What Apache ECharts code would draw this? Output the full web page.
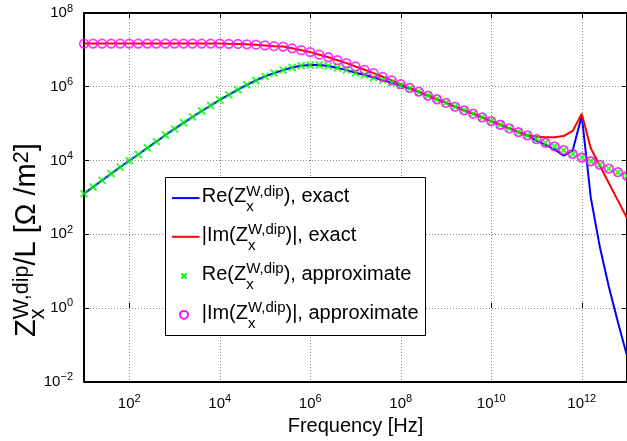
<!DOCTYPE html>
<html><head><meta charset="utf-8">
<script src="https://cdn.jsdelivr.net/npm/echarts@6/dist/echarts.min.js"></script>
<style>html,body{margin:0;padding:0;background:#fff}#c{width:627px;height:441px}</style>
</head><body><div id="c"></div>
<script>
// ---------------- data ----------------
const freqHz = [
  1e1, 1.585e1, 2.512e1, 3.981e1, 6.310e1,
  1e2, 1.585e2, 2.512e2, 3.981e2, 6.310e2,
  1e3, 1.585e3, 2.512e3, 3.981e3, 6.310e3,
  1e4, 1.585e4, 2.512e4, 3.981e4, 6.310e4,
  1e5, 1.585e5, 2.512e5, 3.981e5, 6.310e5,
  1e6, 1.585e6, 2.512e6, 3.981e6, 6.310e6,
  1e7, 1.585e7, 2.512e7, 3.981e7, 6.310e7,
  1e8, 1.585e8, 2.512e8, 3.981e8, 6.310e8,
  1e9, 1.585e9, 2.512e9, 3.981e9, 6.310e9,
  1e10, 1.585e10, 2.512e10, 3.981e10, 6.310e10,
  1e11, 1.585e11, 2.512e11, 3.981e11, 6.310e11,
  1e12, 1.585e12, 2.512e12, 3.981e12, 6.310e12,
  1e13
];
const imApprox = [
  1.48e7, 1.48e7, 1.48e7, 1.48e7, 1.48e7,
  1.48e7, 1.48e7, 1.48e7, 1.48e7, 1.48e7,
  1.48e7, 1.48e7, 1.48e7, 1.48e7, 1.48e7,
  1.48e7, 1.46e7, 1.45e7, 1.41e7, 1.38e7,
  1.32e7, 1.26e7, 1.23e7, 1.10e7, 9.8e6,
  8.7e6, 7.4e6, 6.3e6, 5.25e6, 4.37e6,
  3.55e6, 2.88e6, 2.34e6, 1.86e6, 1.48e6,
  1.17e6, 9.3e5, 7.4e5, 5.75e5, 4.57e5,
  3.63e5, 2.88e5, 2.29e5, 1.86e5, 1.48e5,
  1.17e5, 9.3e4, 7.4e4, 5.9e4, 4.8e4,
  3.8e4, 3.0e4, 2.4e4, 1.9e4, 1.5e4,
  1.2e4, 9.5e3, 7.6e3, 6.0e3, 4.8e3,
  3.8e3
];
const reApprox = [
  1.26e3, 1.91e3, 2.88e3, 4.37e3, 6.6e3,
  9.8e3, 1.45e4, 2.19e4, 3.24e4, 4.9e4,
  7.2e4, 1.05e5, 1.51e5, 2.19e5, 3.09e5,
  4.37e5, 6.0e5, 8.3e5, 1.12e6, 1.48e6,
  1.91e6, 2.34e6, 2.82e6, 3.31e6, 3.72e6,
  3.89e6, 3.89e6, 3.63e6, 3.24e6, 2.82e6,
  2.40e6, 2.09e6, 1.78e6, 1.51e6, 1.29e6,
  1.07e6, 8.9e5, 7.2e5, 5.75e5, 4.57e5,
  3.63e5, 2.88e5, 2.29e5, 1.86e5, 1.48e5,
  1.17e5, 9.3e4, 7.4e4, 5.9e4, 4.8e4,
  3.8e4, 3.0e4, 2.4e4, 1.9e4, 1.5e4,
  1.2e4, 9.5e3, 7.6e3, 6.0e3, 4.8e3,
  3.8e3
];
const reExact = [
  1.26e3, 1.91e3, 2.88e3, 4.37e3, 6.6e3,
  9.8e3, 1.45e4, 2.19e4, 3.24e4, 4.9e4,
  7.2e4, 1.05e5, 1.51e5, 2.19e5, 3.09e5,
  4.37e5, 6.0e5, 8.3e5, 1.12e6, 1.48e6,
  1.91e6, 2.34e6, 2.82e6, 3.31e6, 3.72e6,
  3.89e6, 3.89e6, 3.63e6, 3.24e6, 2.82e6,
  2.40e6, 2.09e6, 1.78e6, 1.51e6, 1.29e6,
  1.07e6, 8.9e5, 7.2e5, 5.75e5, 4.57e5,
  3.63e5, 2.88e5, 2.29e5, 1.86e5, 1.48e5,
  1.17e5, 9.3e4, 7.4e4, 5.9e4, 4.8e4,
  3.47e4, 2.63e4, 2.0e4, 1.35e4, 1.86e4,
  1.62e5, 977, 44.7, 3.7, 0.41,
  0.05
];
const imExact = [
  1.48e7, 1.48e7, 1.48e7, 1.48e7, 1.48e7,
  1.48e7, 1.48e7, 1.48e7, 1.48e7, 1.48e7,
  1.48e7, 1.48e7, 1.48e7, 1.48e7, 1.48e7,
  1.48e7, 1.46e7, 1.45e7, 1.41e7, 1.38e7,
  1.32e7, 1.26e7, 1.23e7, 1.10e7, 9.8e6,
  8.7e6, 7.4e6, 6.3e6, 5.25e6, 4.37e6,
  3.55e6, 2.88e6, 2.34e6, 1.86e6, 1.48e6,
  1.17e6, 9.3e5, 7.4e5, 5.75e5, 4.57e5,
  3.63e5, 2.88e5, 2.29e5, 1.86e5, 1.48e5,
  1.17e5, 9.3e4, 7.4e4, 5.9e4, 4.8e4,
  4.37e4, 4.27e4, 4.27e4, 4.57e4, 6.3e4,
  1.86e5, 2.14e4, 7.2e3, 2.4e3, 813,
  275
];
const xTickExponents = [2, 4, 6, 8, 10, 12];
const yTickExponents = [-2, 0, 2, 4, 6, 8];
const xAxisTitle = 'Frequency [Hz]';
const legendRows = [
  ['Re(Z', {sub: 'x', sup: 'W,dip'}, '), exact'],
  ['|Im(Z', {sub: 'x', sup: 'W,dip'}, ')|, exact'],
  ['Re(Z', {sub: 'x', sup: 'W,dip'}, '), approximate'],
  ['|Im(Z', {sub: 'x', sup: 'W,dip'}, ')|, approximate']
];
const yAxisTitle = ['Z', {sub: 'x', sup: 'W,dip'}, '/L [\u03A9 /m', {sup: '2'}, ']'];

// ---------------- helpers ----------------
const FONT = '"Liberation Sans", Arial, Helvetica, sans-serif';
const mctx = document.createElement('canvas').getContext('2d');
function tw(t, size) { mctx.font = size + 'px ' + FONT; return mctx.measureText(t).width; }
function txt(t, x, y, size) {
  return { type: 'text', x: x, y: y, z: 101, silent: true,
    style: { text: t, font: size + 'px ' + FONT, fill: '#000', align: 'left', verticalAlign: 'middle' } };
}
// baseline at local y = 0
function texElems(parts, base, small, rise, drop) {
  let x = 0; const els = [];
  parts.forEach(p => {
    if (typeof p === 'string') {
      els.push(txt(p, x, -0.35 * base, base));
      x += tw(p, base);
    } else {
      let w = 0;
      if (p.sup) { els.push(txt(p.sup, x, -rise - 0.35 * small, small)); w = Math.max(w, tw(p.sup, small)); }
      if (p.sub) { els.push(txt(p.sub, x, drop - 0.35 * small, small)); w = Math.max(w, tw(p.sub, small)); }
      x += w;
    }
  });
  return { els, width: x };
}
function pairs(xs, ys) { return xs.map((x, i) => [x, ys[i]]); }
const supMap = { '-': '\u2212' };
function expLabel(v) {
  const e = Math.round(v);
  const s = String(e).split('').map(c => supMap[c] || c).join('');
  return '{b|10}{s|' + s + '}';
}
const richTick = {
  b: { fontSize: 15, fontFamily: FONT, color: '#000', lineHeight: 20 },
  s: { fontSize: 11, fontFamily: FONT, color: '#000', lineHeight: 9, verticalAlign: 'top' }
};

// ---------------- chart ----------------
const chart = echarts.init(document.getElementById('c'), null, { renderer: 'canvas' });
const gridLine = { show: true, lineStyle: { color: '#8c8c8c', width: 1, type: [1, 2] } };
const tickStyle = { show: true, inside: true, length: 5, lineStyle: { color: '#000', width: 1 } };

// legend graphic
const legendEls = [];
legendEls.push({ type: 'rect', z: 100, silent: true,
  shape: { x: 165.5, y: 177.5, width: 260, height: 158 },
  style: { fill: '#fff', stroke: '#000', lineWidth: 1 } });
const rowBase = [203.7, 242.4, 281.6, 320.4];
const legendColors = ['#0000ff', '#ff0000'];
legendRows.forEach((parts, i) => {
  const B = rowBase[i];
  const cy = B - 5.6;
  if (i < 2) {
    legendEls.push({ type: 'line', z: 101, silent: true, shape: { x1: 172, y1: cy, x2: 199.5, y2: cy },
      style: { stroke: legendColors[i], lineWidth: 2 } });
  } else if (i === 2) {
    legendEls.push({ type: 'polyline', z: 101, silent: true, shape: { points: [[181.5, cy - 2.5], [186.5, cy + 2.5]] }, style: { stroke: '#00ff00', lineWidth: 2, fill: null } });
    legendEls.push({ type: 'polyline', z: 101, silent: true, shape: { points: [[186.5, cy - 2.5], [181.5, cy + 2.5]] }, style: { stroke: '#00ff00', lineWidth: 2, fill: null } });
  } else {
    legendEls.push({ type: 'circle', z: 101, silent: true, shape: { cx: 184, cy: cy, r: 4 },
      style: { stroke: '#ff00ff', lineWidth: 1.8, fill: null } });
  }
  const t = texElems(parts, 20, 15, 7, 8.5);
  legendEls.push({ type: 'group', x: 201.7, y: B, z: 101, children: t.els });
});

// y-axis title (rotated, larger type as in the reference)
const yt = texElems(yAxisTitle, 29, 21.5, 7, 9);
const yTitleGroup = { type: 'group', x: 37, y: 337, rotation: Math.PI / 2, z: 101, children: yt.els };

chart.setOption({
  animation: false,
  backgroundColor: '#fff',
  grid: { left: 84, top: 13, width: 546, height: 373, containLabel: false },
  xAxis: [
    { type: 'log', logBase: 10, min: 10, max: 1e13, position: 'bottom',
      axisLine: { show: true, onZero: false, lineStyle: { color: '#000', width: 2 } },
      axisTick: { show: false }, axisLabel: { show: false }, splitLine: { show: false }, minorTick: { show: false } },
    { type: 'value', min: 1, max: 13, splitNumber: 6, position: 'bottom',
      axisLine: { show: false }, axisTick: tickStyle, splitLine: gridLine,
      axisLabel: { show: true, margin: 12, showMinLabel: false, showMaxLabel: false,
        formatter: v => xTickExponents.includes(Math.round(v)) ? expLabel(v) : '', rich: richTick },
      name: xAxisTitle, nameLocation: 'middle', nameGap: 27,
      nameTextStyle: { fontSize: 20, fontFamily: FONT, color: '#000' } },
    { type: 'value', min: 1, max: 13, splitNumber: 6, position: 'top',
      axisLine: { show: true, onZero: false, lineStyle: { color: '#000', width: 2 } },
      axisTick: tickStyle, axisLabel: { show: false }, splitLine: { show: false } }
  ],
  yAxis: [
    { type: 'log', logBase: 10, min: 0.01, max: 1e8, position: 'left',
      axisLine: { show: true, onZero: false, lineStyle: { color: '#000', width: 2 } },
      axisTick: { show: false }, axisLabel: { show: false }, splitLine: { show: false }, minorTick: { show: false } },
    { type: 'value', min: -2, max: 8, interval: 2, position: 'left',
      axisLine: { show: false }, axisTick: tickStyle, splitLine: gridLine,
      axisLabel: { show: true, margin: 11,
        formatter: v => yTickExponents.includes(Math.round(v)) ? expLabel(v) : '', rich: richTick } },
    { type: 'value', min: -2, max: 8, interval: 2, position: 'right',
      axisLine: { show: true, onZero: false, lineStyle: { color: '#000', width: 2 } },
      axisTick: tickStyle, axisLabel: { show: false }, splitLine: { show: false } }
  ],
  series: [
    { name: 'Re exact', type: 'line', xAxisIndex: 0, yAxisIndex: 0, data: pairs(freqHz, reExact),
      symbol: 'none', showSymbol: false, lineStyle: { color: '#0000ff', width: 2 }, itemStyle: { color: '#0000ff' }, z: 2 },
    { name: 'Im exact', type: 'line', xAxisIndex: 0, yAxisIndex: 0, data: pairs(freqHz, imExact),
      symbol: 'none', showSymbol: false, lineStyle: { color: '#ff0000', width: 2 }, itemStyle: { color: '#ff0000' }, z: 2 },
    { name: 'Re approx', type: 'scatter', xAxisIndex: 0, yAxisIndex: 0, data: pairs(freqHz, reApprox),
      symbol: 'path://M0 0L10 10M10 0L0 10', symbolSize: 7,
      itemStyle: { color: 'none', borderColor: '#00ff00', borderWidth: 2 }, z: 3 },
    { name: 'Im approx', type: 'scatter', xAxisIndex: 0, yAxisIndex: 0, data: pairs(freqHz, imApprox),
      symbol: 'circle', symbolSize: 8.5,
      itemStyle: { color: 'rgba(0,0,0,0)', borderColor: '#ff00ff', borderWidth: 1.8 }, z: 4 }
  ],
  graphic: { elements: legendEls.concat([yTitleGroup]) }
});
</script>
</body></html>
